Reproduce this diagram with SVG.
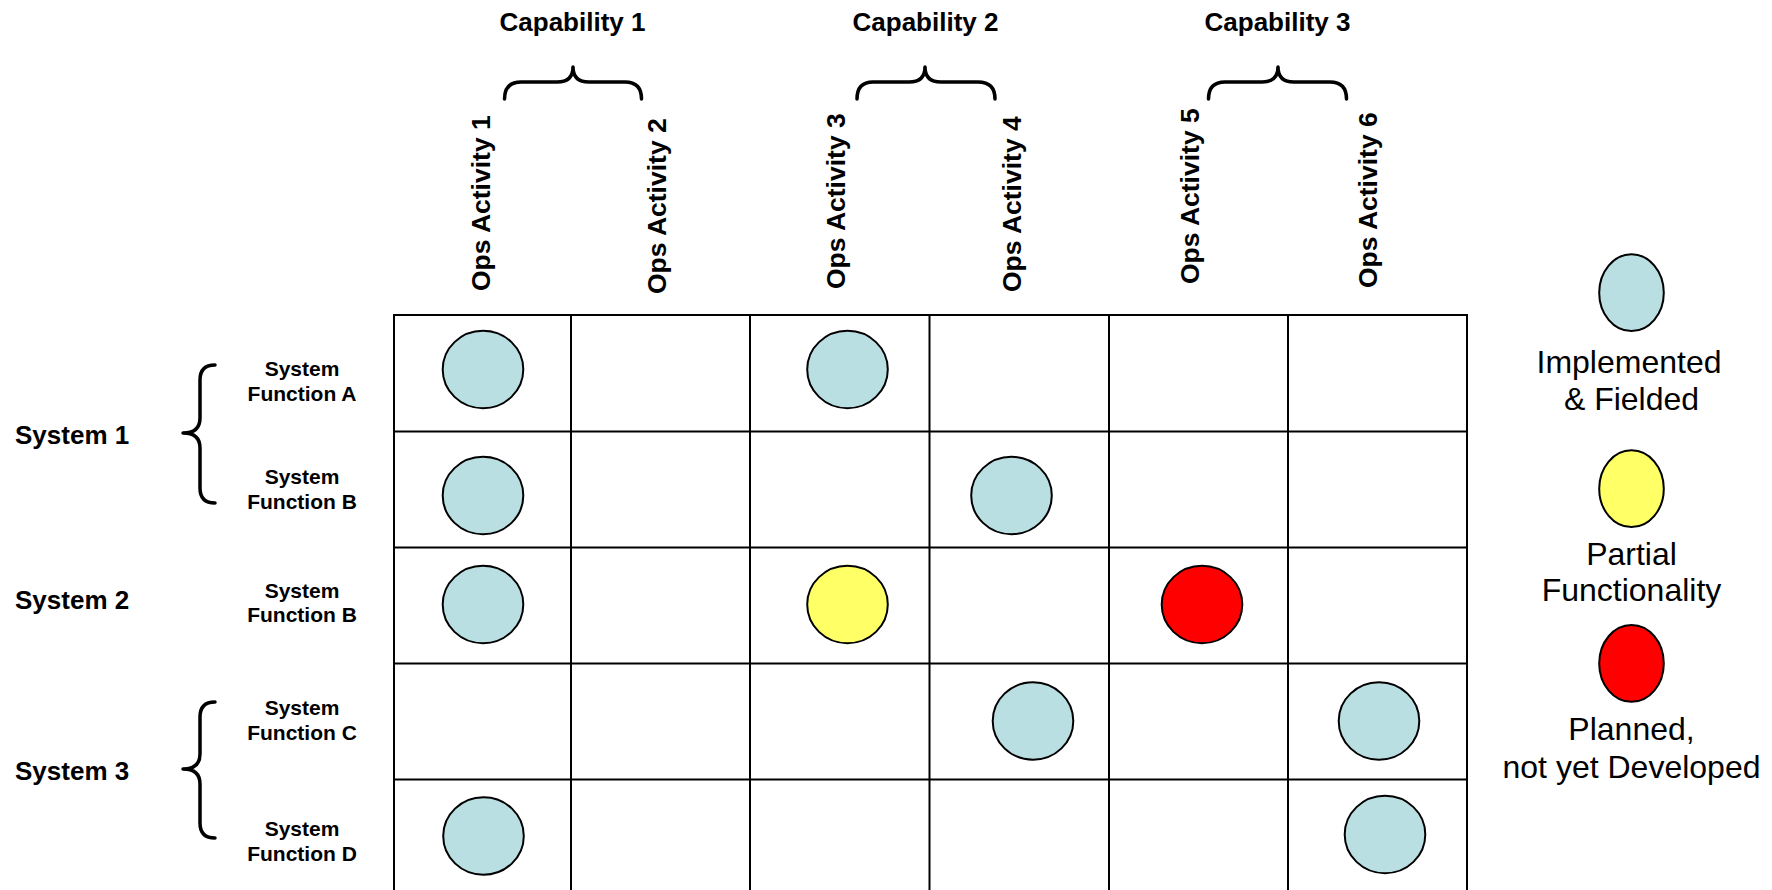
<svg xmlns="http://www.w3.org/2000/svg" width="1772" height="890" viewBox="0 0 1772 890">
<style>
.b{font-family:"Liberation Sans",Arial,sans-serif;font-weight:bold;fill:#000}
.cap{font-size:26px;text-anchor:middle}
.sys{font-size:26px}
.sub{font-size:21px;text-anchor:middle}
.ops{font-size:26.5px}
.leg{font-family:"Liberation Sans",Arial,sans-serif;font-size:32px;fill:#000;text-anchor:middle}
.grid{fill:none;stroke:#000;stroke-width:2}
.br{fill:none;stroke:#000;stroke-width:3.5;stroke-linecap:round;stroke-linejoin:round}
.imp{fill:#BADFE2;stroke:#000;stroke-width:2}
.par{fill:#FFFF66;stroke:#000;stroke-width:2}
.pln{fill:#FF0000;stroke:#000;stroke-width:2}
</style>
<rect width="1772" height="890" fill="#fff"/>

<g id="grid" class="grid">
  <rect x="394" y="315" width="1073" height="590"/>
  <line x1="571" y1="315" x2="571" y2="890"/>
  <line x1="750" y1="315" x2="750" y2="890"/>
  <line x1="929.5" y1="315" x2="929.5" y2="890"/>
  <line x1="1109" y1="315" x2="1109" y2="890"/>
  <line x1="1288" y1="315" x2="1288" y2="890"/>
  <line x1="394" y1="431.5" x2="1467" y2="431.5"/>
  <line x1="394" y1="547.5" x2="1467" y2="547.5"/>
  <line x1="394" y1="663.5" x2="1467" y2="663.5"/>
  <line x1="394" y1="779.5" x2="1467" y2="779.5"/>
</g>

<g id="capabilities">
  <g id="cap1"><text class="b cap" x="572.5" y="31">Capability 1</text></g>
  <g id="cap2"><text class="b cap" x="925.5" y="31">Capability 2</text></g>
  <g id="cap3"><text class="b cap" x="1277.5" y="31">Capability 3</text></g>
</g>

<g id="activities">
  <g id="ops1"><text class="b ops" transform="translate(490,291) rotate(-90)">Ops Activity 1</text></g>
  <g id="ops2"><text class="b ops" transform="translate(666,294) rotate(-90)">Ops Activity 2</text></g>
  <g id="ops3"><text class="b ops" transform="translate(845,289) rotate(-90)">Ops Activity 3</text></g>
  <g id="ops4"><text class="b ops" transform="translate(1021,292) rotate(-90)">Ops Activity 4</text></g>
  <g id="ops5"><text class="b ops" transform="translate(1199,284) rotate(-90)">Ops Activity 5</text></g>
  <g id="ops6"><text class="b ops" transform="translate(1377,288) rotate(-90)">Ops Activity 6</text></g>
</g>

<g id="systems">
  <g id="system1"><text class="b sys" x="15" y="444">System 1</text></g>
  <g id="system2"><text class="b sys" x="15" y="609">System 2</text></g>
  <g id="system3"><text class="b sys" x="15" y="780">System 3</text></g>
</g>

<g id="functions">
  <g id="fnA1"><text class="b sub" x="302" y="376">System</text><text class="b sub" x="302" y="401">Function A</text></g>
  <g id="fnB1"><text class="b sub" x="302" y="483.5">System</text><text class="b sub" x="302" y="509">Function B</text></g>
  <g id="fnB2"><text class="b sub" x="302" y="597.5">System</text><text class="b sub" x="302" y="622">Function B</text></g>
  <g id="fnC3"><text class="b sub" x="302" y="715">System</text><text class="b sub" x="302" y="740">Function C</text></g>
  <g id="fnD3"><text class="b sub" x="302" y="836">System</text><text class="b sub" x="302" y="861">Function D</text></g>
</g>

<g id="connectors" class="br">
  <path d="M504.5,99 Q504.5,82 521,82 L557,82 Q573,82 573,67 Q573,82 589,82 L625,82 Q641.5,82 641.5,99"/>
  <path d="M857,99 Q857,82 873,82 L909,82 Q925,82 925,67 Q925,82 941,82 L978,82 Q995,82 995,99"/>
  <path d="M1208.5,99 Q1208.5,82 1225,82 L1262,82 Q1278,82 1278,67 Q1278,82 1294,82 L1330,82 Q1346.5,82 1346.5,99"/>
  <path d="M215,365 Q200,365 200,380 L200,418 Q200,433 183,433 Q200,433 200,448 L200,488 Q200,503 215,503"/>
  <path d="M215,702 Q200,702 200,717 L200,754 Q200,769 183,769 Q200,769 200,784 L200,823 Q200,838 215,838"/>
</g>

<g id="marks">
  <ellipse id="m11" class="imp" cx="483" cy="369.5" rx="40.3" ry="38.7"/>
  <ellipse id="m13" class="imp" cx="847.5" cy="369.5" rx="40.3" ry="38.7"/>
  <ellipse id="m21" class="imp" cx="483" cy="495.5" rx="40.3" ry="38.7"/>
  <ellipse id="m24" class="imp" cx="1011.5" cy="495.5" rx="40.3" ry="38.7"/>
  <ellipse id="m31" class="imp" cx="483" cy="604.5" rx="40.3" ry="38.7"/>
  <ellipse id="m33" class="par" cx="847.5" cy="604.5" rx="40.3" ry="38.7"/>
  <ellipse id="m35" class="pln" cx="1202" cy="604.5" rx="40.3" ry="38.7"/>
  <ellipse id="m44" class="imp" cx="1033" cy="721" rx="40.3" ry="38.7"/>
  <ellipse id="m46" class="imp" cx="1379" cy="721" rx="40.3" ry="38.7"/>
  <ellipse id="m51" class="imp" cx="483.5" cy="836" rx="40.3" ry="38.7"/>
  <ellipse id="m56" class="imp" cx="1385" cy="834.5" rx="40.3" ry="38.7"/>
</g>

<g id="legend">
  <g id="leg-imp">
    <ellipse class="imp" cx="1631.5" cy="292.7" rx="32.3" ry="38.4"/>
    <text class="leg" x="1629" y="372.5">Implemented</text>
    <text class="leg" x="1631.5" y="409.5">&amp; Fielded</text>
  </g>
  <g id="leg-par">
    <ellipse class="par" cx="1631.5" cy="488.7" rx="32.3" ry="38.4"/>
    <text class="leg" x="1631.5" y="565">Partial</text>
    <text class="leg" x="1631.5" y="601">Functionality</text>
  </g>
  <g id="leg-pln">
    <ellipse class="pln" cx="1631.5" cy="663.4" rx="32.3" ry="38.4"/>
    <text class="leg" x="1631.5" y="740">Planned,</text>
    <text class="leg" x="1631.5" y="777.5">not yet Developed</text>
  </g>
</g>
</svg>
